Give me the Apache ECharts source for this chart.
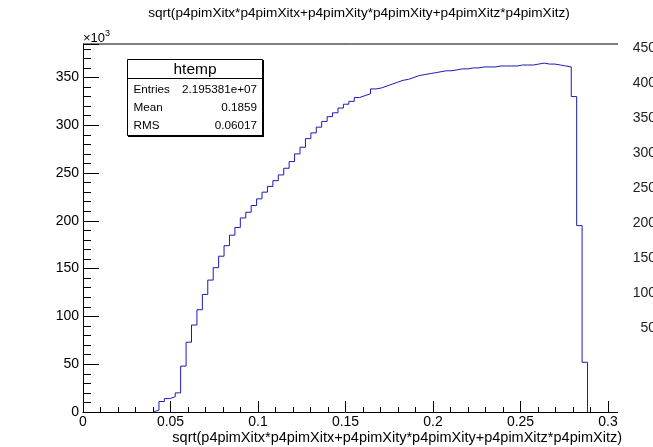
<!DOCTYPE html>
<html><head><meta charset="utf-8">
<script src="https://cdn.jsdelivr.net/npm/echarts@6/dist/echarts.min.js"></script>
<style>html,body{margin:0;padding:0;background:#fff}#c{width:653px;height:447px}</style>
</head><body><div id="c"></div>
<script>
// ---- data ----
const titleText = 'sqrt(p4pimXitx*p4pimXitx+p4pimXity*p4pimXity+p4pimXitz*p4pimXitz)';
const xAxisTitle = 'sqrt(p4pimXitx*p4pimXitx+p4pimXity*p4pimXity+p4pimXitz*p4pimXitz)';
const yScaleLabel = '\u00d710';
const yScaleExp = '3';
const binWidth = 0.0031;   // histogram bin width
const firstBin = 13;       // index of first non-empty bin (from 0)
// bin contents, in thousands of entries
const binValues = [
  2, 11, 14, 16, 20, 48, 73, 91, 107, 123,
  138, 151, 163, 174, 185, 193, 203, 209, 216, 223,
  230, 236, 242, 248, 255, 262, 270, 277, 286, 292,
  298, 304, 309, 313, 318, 322, 325, 329, 331, 333,
  338, 339, 341, 343, 345, 347, 348, 350, 352, 353,
  354, 355, 356, 357, 357, 358, 359, 359, 360, 360,
  361, 361, 361, 362, 362, 362, 362, 363, 363, 363,
  364, 365, 364, 364, 363, 362, 361, 330, 195, 52
];
const xMin = 0, xMax = 0.3, xInterval = 0.05;
const yMin = 0, yMax = 385, yInterval = 50;
const rightMin = 0, rightMax = 456, rightInterval = 50;
const statsName = 'htemp';
const statsLabels = ['Entries', 'Mean', 'RMS'];
const statsValues = ['2.195381e+07', '0.1859', '0.06017'];

// ---- build ----
const FONT = '"Liberation Sans", Arial, Helvetica, sans-serif';
const pts = [[firstBin * binWidth, 0]];
binValues.forEach((v, i) => pts.push([(firstBin + i) * binWidth, v]));
pts.push([(firstBin + binValues.length) * binWidth, 0]);

const chart = echarts.init(document.getElementById('c'), null, {renderer: 'canvas'});

const statRowY = [89.5, 108, 126];
const statsGraphics = [
  {type: 'rect', shape: {x: 128, y: 60, width: 136, height: 77}, style: {fill: '#000'}, z: 100},
  {type: 'rect', shape: {x: 127.5, y: 59.5, width: 135, height: 76}, style: {fill: '#fff', stroke: '#000', lineWidth: 1}, z: 101},
  {type: 'line', shape: {x1: 127.5, y1: 78.5, x2: 262.5, y2: 78.5}, style: {stroke: '#000', lineWidth: 1}, z: 102},
  {type: 'text', x: 195, y: 69.5, style: {text: statsName, font: '15.5px ' + FONT, fill: '#000', align: 'center', verticalAlign: 'middle'}, z: 102}
];
statsLabels.forEach((l, i) => {
  statsGraphics.push({type: 'text', x: 133.5, y: statRowY[i], style: {text: l, font: '11.7px ' + FONT, fill: '#000', align: 'left', verticalAlign: 'middle'}, z: 102});
  statsGraphics.push({type: 'text', x: 257, y: statRowY[i], style: {text: statsValues[i], font: '11.7px ' + FONT, fill: '#000', align: 'right', verticalAlign: 'middle'}, z: 102});
});

const option = {
  animation: false,
  backgroundColor: '#fff',
  title: {
    text: titleText, left: 354, top: 1, textAlign: 'center',
    textStyle: {fontFamily: FONT, fontSize: 13.6, fontWeight: 'normal', color: '#000'}
  },
  grid: [
    {left: 83, right: 45, top: 44, bottom: 35, containLabel: false, outerBoundsMode: 'none'},
    {left: 83, right: 35, top: 44, bottom: 84, containLabel: false, outerBoundsMode: 'none'}
  ],
  xAxis: [{
    type: 'value', gridIndex: 0, min: xMin, max: xMax, interval: xInterval,
    axisLine: {show: true, onZero: false, lineStyle: {color: '#000', width: 1}},
    axisTick: {show: true, inside: true, length: 11, lineStyle: {color: '#000'}},
    minorTick: {show: true, splitNumber: 5, length: 5, lineStyle: {color: '#000'}},
    splitLine: {show: false},
    axisLabel: {
      color: '#000', fontFamily: FONT, fontSize: 14, margin: 3,
      formatter: v => (v === 0 ? '0' : String(+v.toFixed(2)))
    }
  }, {
    type: 'value', gridIndex: 1, min: 0, max: 1, show: false
  }],
  yAxis: [{
    type: 'value', gridIndex: 0, min: yMin, max: yMax, interval: yInterval,
    axisLine: {show: true, onZero: false, lineStyle: {color: '#000', width: 1}},
    axisTick: {show: true, inside: true, length: 16, lineStyle: {color: '#000'}},
    minorTick: {show: true, splitNumber: 5, length: 8, lineStyle: {color: '#000'}},
    splitLine: {show: false},
    axisLabel: {color: '#000', fontFamily: FONT, fontSize: 14, margin: 4, showMaxLabel: false}
  }, {
    type: 'value', gridIndex: 1, position: 'right', min: rightMin, max: rightMax, interval: rightInterval,
    axisLine: {show: false}, axisTick: {show: false}, splitLine: {show: false},
    axisLabel: {color: '#222', fontFamily: FONT, fontSize: 14, margin: 38, align: 'right', showMinLabel: false, showMaxLabel: false}
  }],
  series: [{
    type: 'line', xAxisIndex: 0, yAxisIndex: 0, data: pts, step: 'end',
    showSymbol: false, symbol: 'none', clip: false,
    lineStyle: {color: '#1a1ab8', width: 1}
  }],
  graphic: [
    {type: 'line', shape: {x1: 83, y1: 44, x2: 618, y2: 44}, style: {stroke: '#000', lineWidth: 1}},
    {type: 'line', shape: {x1: 607, y1: 412.5, x2: 618, y2: 412.5}, style: {stroke: '#000', lineWidth: 1}},
    {type: 'text', x: 622, y: 438, style: {text: xAxisTitle, font: '14.5px ' + FONT, fill: '#000', align: 'right', verticalAlign: 'middle'}},
    {type: 'text', x: 83, y: 37, style: {
      text: '{a|' + yScaleLabel + '}{b|' + yScaleExp + '}',
      rich: {a: {fontFamily: FONT, fontSize: 13, fill: '#000', verticalAlign: 'bottom'}, b: {fontFamily: FONT, fontSize: 9, fill: '#000', padding: [0, 0, 7, 0], verticalAlign: 'bottom'}},
      align: 'left', verticalAlign: 'middle'}},
    ...statsGraphics
  ]
};
chart.setOption(option);
</script>
</body></html>
